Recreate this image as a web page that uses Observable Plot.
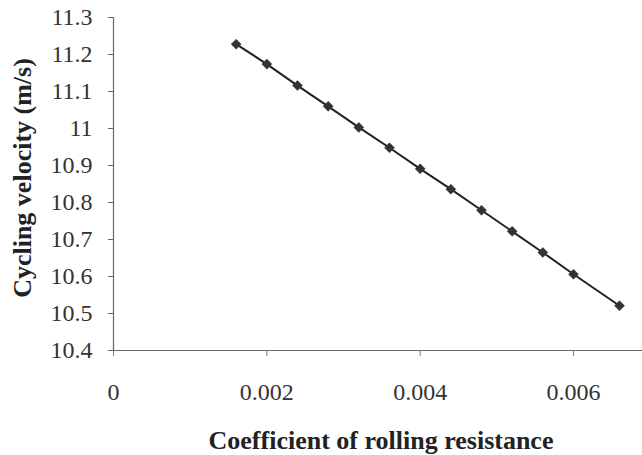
<!DOCTYPE html>
<html>
<head>
<meta charset="utf-8">
<script src="https://cdn.jsdelivr.net/npm/d3@7"></script>
<script src="https://cdn.jsdelivr.net/npm/@observablehq/plot@0.6"></script>
<style>
  html, body { margin: 0; padding: 0; background: #fff; }
  #chart svg { display: block; }
</style>
</head>
<body>
<div id="chart"></div>
<script>
// Data
const coefficient = [0.0016, 0.0020, 0.0024, 0.0028, 0.0032, 0.0036, 0.0040, 0.0044, 0.0048, 0.0052, 0.0056, 0.0060, 0.0066];
const velocity = [11.228, 11.174, 11.116, 11.060, 11.003, 10.948, 10.891, 10.836, 10.779, 10.722, 10.665, 10.606, 10.521];
const xTicks = [0, 0.002, 0.004, 0.006];
const xTickLabels = ["0", "0.002", "0.004", "0.006"];
const yTicks = [10.4, 10.5, 10.6, 10.7, 10.8, 10.9, 11, 11.1, 11.2, 11.3];
const yTickLabels = ["10.4", "10.5", "10.6", "10.7", "10.8", "10.9", "11", "11.1", "11.2", "11.3"];
const xTitle = "Coefficient of rolling resistance";
const yTitle = "Cycling velocity (m/s)";

const data = coefficient.map((c, i) => ({c, v: velocity[i]}));

// square diamond (rotated square) marker
const squareDiamond = {
  draw(ctx, size) {
    const r = Math.sqrt(size / 2);
    ctx.moveTo(0, -r);
    ctx.lineTo(r, 0);
    ctx.lineTo(0, r);
    ctx.lineTo(-r, 0);
    ctx.closePath();
  }
};

const serif = "'Liberation Serif', 'Times New Roman', serif";

const chart = Plot.plot({
  width: 642,
  height: 455,
  marginTop: 17,
  marginLeft: 113,
  marginRight: 0,
  marginBottom: 105,
  style: {fontFamily: serif, background: "#fff"},
  x: {domain: [0, 0.0069]},
  y: {domain: [10.4, 11.3]},
  marks: [
    Plot.ruleY([10.4], {stroke: "#666", strokeWidth: 1.2}),
    Plot.ruleX([0], {stroke: "#666", strokeWidth: 1.2}),
    Plot.axisX({
      ticks: xTicks,
      tickFormat: (d) => xTickLabels[xTicks.indexOf(d)],
      tickSize: 6,
      tickPadding: 26,
      fontSize: 24,
      fontFamily: serif,
      color: "#333",
      stroke: "#777",
      label: null
    }),
    Plot.axisY({
      ticks: yTicks,
      tickFormat: (d) => yTickLabels[yTicks.findIndex(t => Math.abs(t - d) < 1e-9)],
      tickSize: 5,
      tickPadding: 16,
      fontSize: 24,
      fontFamily: serif,
      color: "#333",
      stroke: "#666",
      label: null
    }),
    Plot.line(data, {x: "c", y: "v", stroke: "#222", strokeWidth: 2}),
    Plot.dot(data, {x: "c", y: "v", symbol: squareDiamond, r: 4, fill: "#333", stroke: "#333", strokeWidth: 0.5}),
    Plot.text([xTitle], {
      frameAnchor: "bottom", dy: 90, dx: 3, text: d => d,
      fontSize: 26, fontWeight: "bold", fontFamily: serif, fill: "#222", lineAnchor: "middle"
    }),
    Plot.text([yTitle], {
      frameAnchor: "left", dx: -91, dy: -6, rotate: -90, text: d => d,
      textAnchor: "middle",
      fontSize: 26, fontWeight: "bold", fontFamily: serif, fill: "#222", lineAnchor: "middle"
    })
  ]
});

document.getElementById("chart").appendChild(chart);
</script>
</body>
</html>
